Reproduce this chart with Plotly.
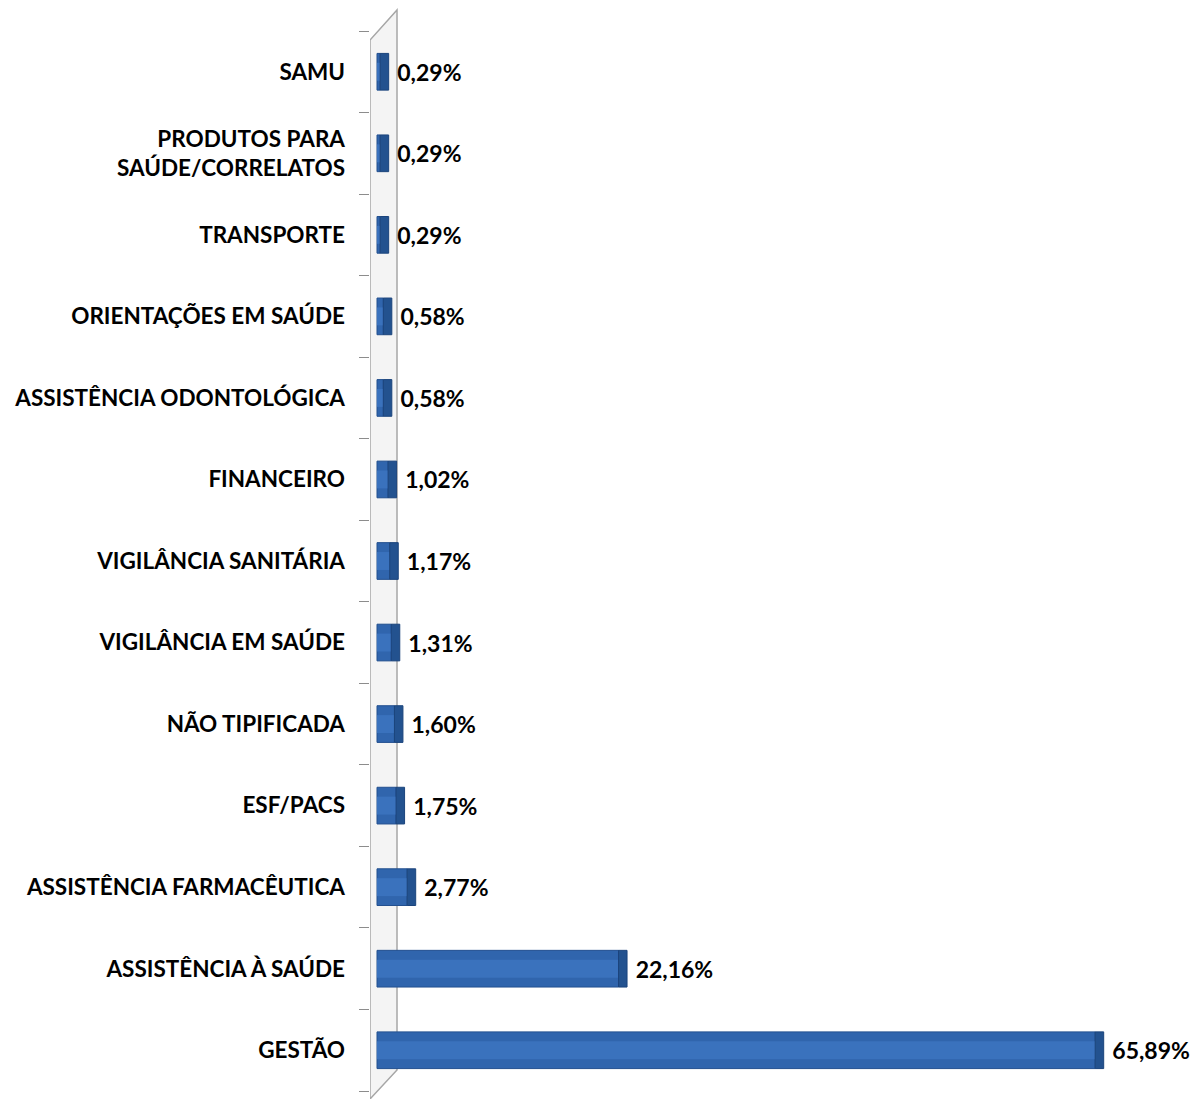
import plotly.graph_objects as go

categories = ["GESTÃO", "ASSISTÊNCIA À SAÚDE", "ASSISTÊNCIA FARMACÊUTICA", "ESF/PACS",
              "NÃO TIPIFICADA", "VIGILÂNCIA EM SAÚDE", "VIGILÂNCIA SANITÁRIA", "FINANCEIRO",
              "ASSISTÊNCIA ODONTOLÓGICA", "ORIENTAÇÕES EM SAÚDE", "TRANSPORTE",
              "PRODUTOS PARA<br>SAÚDE/CORRELATOS", "SAMU"]
values = [65.89, 22.16, 2.77, 1.75, 1.60, 1.31, 1.17, 1.02, 0.58, 0.58, 0.29, 0.29, 0.29]
labels = [" " + f"{v:.2f}".replace(".", ",") + "%" for v in values]

W, H = 1194, 1099
L, R, T, B = 370, 4, 31, 8
ppu = 10.9
cap = 8.5 / ppu
x0 = -7 / ppu
x1 = x0 + (W - L - R) / ppu

FONT = "Lato"

fig = go.Figure()
fig.add_trace(go.Bar(
    y=categories, x=values, orientation="h", width=0.45,
    marker=dict(color="#3065AD", line=dict(color="#23508F", width=1)),
    hoverinfo="skip",
))
fig.add_trace(go.Bar(
    y=categories, x=values, orientation="h", width=0.22,
    marker=dict(color="#3A72BD", line=dict(width=0)),
    hoverinfo="skip",
))
fig.add_trace(go.Bar(
    y=categories, x=[cap] * len(values), base=values, orientation="h", width=0.45,
    marker=dict(color="#23528F", line=dict(color="#1B447C", width=1)),
    text=labels, textposition="outside", cliponaxis=False,
    textfont=dict(family=FONT, size=23, color="black", weight="bold"),
    hoverinfo="skip",
))

ph = H - T - B
def py(p):
    return (H - B - p) / ph

def pxv(p):
    return x0 + (p - L) / ppu

wall = (f"M {pxv(370)},{py(1099)} L {pxv(370)},{py(40)} L {pxv(397)},{py(10)} "
        f"L {pxv(397)},{py(1070)} Z")
fig.add_shape(type="path", path=wall, xref="x", yref="paper",
              fillcolor="#F4F4F4", line=dict(color="#A6A6A6", width=1.5), layer="below")

fig.update_layout(
    width=W, height=H, barmode="overlay", showlegend=False,
    margin=dict(l=L, r=R, t=T, b=B, autoexpand=False),
    plot_bgcolor="white", paper_bgcolor="white",
    xaxis=dict(range=[x0, x1], visible=False, automargin=False),
    yaxis=dict(range=[-0.5, 12.5], tickson="boundaries", ticks="outside", ticklen=10,
               tickcolor="#8C8C8C", showline=False, showgrid=False, automargin=False,
               tickfont=dict(family=FONT, size=22.5, color="black", weight="bold"),
               ticklabelstandoff=24),
)
fig.write_html("out.html", config={"displayModeBar": False},
               post_script="document.body.style.margin='0';document.body.style.overflow='hidden';")
